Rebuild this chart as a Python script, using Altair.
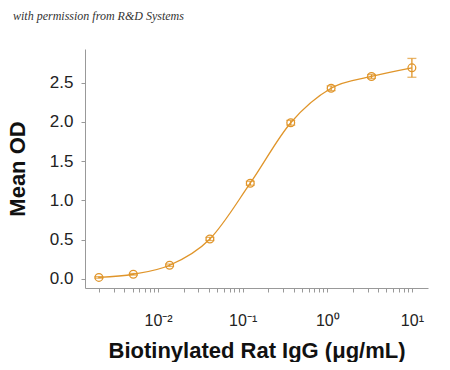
import altair as alt
import pandas as pd

# Data
conc = [0.002, 0.0051, 0.0137, 0.041, 0.123, 0.37, 1.11, 3.33, 10.0]
mean_od = [0.02, 0.06, 0.175, 0.51, 1.22, 1.99, 2.43, 2.58, 2.69]
err = [0.01, 0.01, 0.015, 0.02, 0.025, 0.03, 0.03, 0.025, 0.12]

tick_decades = [0.01, 0.1, 1, 10]
tick_labels = ["10⁻²", "10⁻¹", "10⁰", "10¹"]
minor_ticks = [m * d for d in [0.001, 0.01, 0.1, 1, 10] for m in range(1, 10)]
minor_ticks = [t for t in minor_ticks if 0.0014 <= t <= 15]

y_ticks = [0.0, 0.5, 1.0, 1.5, 2.0, 2.5]
watermark = "with permission from R&D Systems"
x_title = "Biotinylated Rat IgG (μg/mL)"
y_title = "Mean OD"

df = pd.DataFrame({"conc": conc, "od": mean_od, "err": err})
df["lo"] = df["od"] - df["err"]
df["hi"] = df["od"] + df["err"]

color = "#E0952A"
axis_color = "#999999"

label_expr = " : ".join(
    f"abs(log(datum.value)/LN10 - ({i})) < 0.01 ? '{lab}'"
    for i, lab in zip([-2, -1, 0, 1], tick_labels)
) + " : ''"

xscale = alt.Scale(type="log", domain=[0.00137, 15.5], nice=False)
yscale = alt.Scale(domain=[-0.115, 2.93], nice=False, zero=False)

x_enc = alt.X(
    "conc:Q",
    scale=xscale,
    axis=alt.Axis(
        title=x_title,
        values=minor_ticks,
        labelExpr=label_expr,
        tickSize=4,
        labelPadding=20,
        labelFontSize=16,
        labelFont="Liberation Sans",
        labelColor="#222222",
        labelFlush=False,
        titleFont="Liberation Sans",
        titleFontSize=22,
        titleFontWeight="bold",
        titleColor="#111111",
        titlePadding=12,
        domainColor=axis_color,
        tickColor=axis_color,
        grid=False,
        labelOverlap=False,
    ),
)
y_enc = alt.Y(
    "od:Q",
    scale=yscale,
    axis=alt.Axis(
        title=y_title,
        values=y_ticks,
        format=".1f",
        tickSize=4,
        labelPadding=8,
        labelFontSize=17,
        labelFont="Liberation Sans",
        labelColor="#222222",
        titleFont="Liberation Sans",
        titleFontSize=22,
        titleFontWeight="bold",
        titleColor="#111111",
        titlePadding=20,
        domainColor=axis_color,
        tickColor=axis_color,
        grid=False,
    ),
)

base = alt.Chart(df)

line = base.mark_line(color=color, strokeWidth=1.3, interpolate="monotone").encode(x=x_enc, y=y_enc)

rules = base.mark_rule(color=color, strokeWidth=1.3).encode(
    x=alt.X("conc:Q", scale=xscale), y=alt.Y("lo:Q", scale=yscale), y2="hi:Q"
)
caps_hi = base.mark_tick(color=color, orient="horizontal", size=9, thickness=1.3).encode(
    x=alt.X("conc:Q", scale=xscale), y=alt.Y("hi:Q", scale=yscale)
)
caps_lo = base.mark_tick(color=color, orient="horizontal", size=9, thickness=1.3).encode(
    x=alt.X("conc:Q", scale=xscale), y=alt.Y("lo:Q", scale=yscale)
)

points = base.mark_point(
    shape="circle", filled=False, color=color, size=60, strokeWidth=1.3, opacity=1
).encode(x=alt.X("conc:Q", scale=xscale), y=alt.Y("od:Q", scale=yscale))

wm = alt.Chart(pd.DataFrame({"t": [watermark]})).mark_text(
    align="left",
    baseline="alphabetic",
    font="Liberation Serif",
    fontStyle="italic",
    fontSize=12,
    color="#333333",
).encode(text="t:N", x=alt.value(-72), y=alt.value(-29))

chart = (
    alt.layer(line, rules, caps_hi, caps_lo, points, wm)
    .properties(
        width=343,
        height=239,
        background="white",
        autosize=alt.AutoSizeParams(type="none"),
        padding={"left": 77, "top": 41, "right": 14, "bottom": 74},
    )
    .configure_view(stroke="transparent", strokeWidth=0)
)

chart.save("out.html", embed_options={"renderer": "svg", "actions": False})
